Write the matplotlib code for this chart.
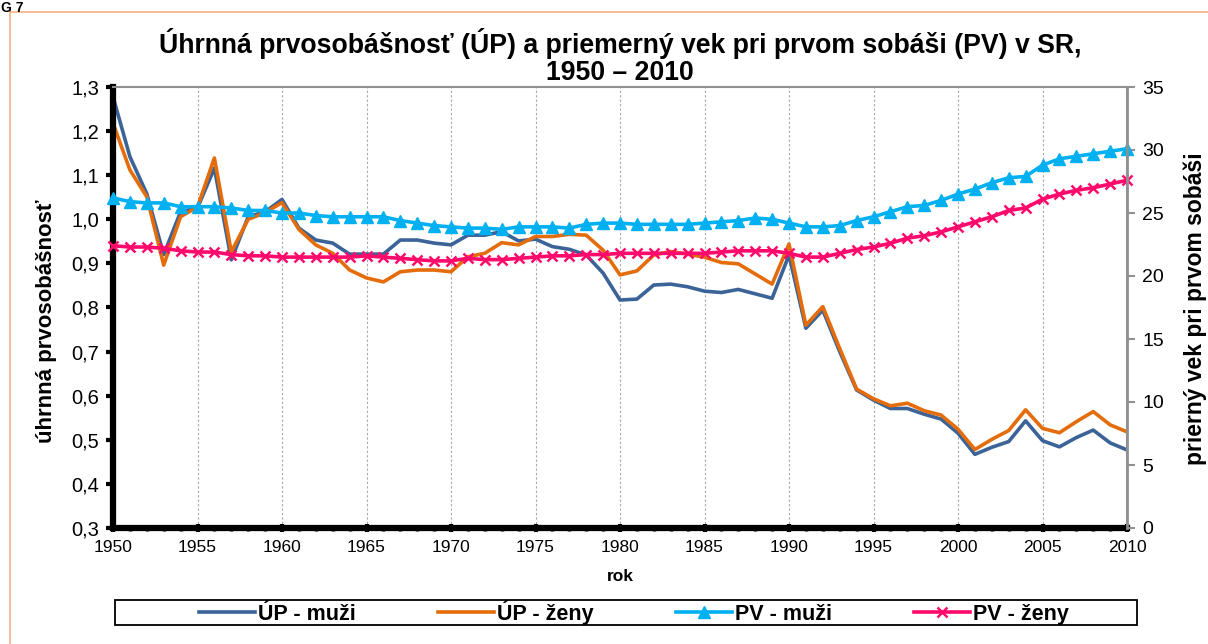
import numpy as np
import matplotlib
matplotlib.use('Agg')
import matplotlib.pyplot as plt
from matplotlib.ticker import FuncFormatter, MultipleLocator
from matplotlib.patches import Rectangle

plt.rcParams['font.family'] = ['Liberation Sans', 'DejaVu Sans']

# roky
roky = np.arange(1950, 2011)

# úhrnná prvosobášnosť - muži
up_muzi = [1.278, 1.142, 1.058, 0.920, 1.017, 1.026, 1.116, 0.908, 1.006, 1.017,
           1.045, 0.980, 0.953, 0.946, 0.921, 0.921, 0.921, 0.953, 0.953, 0.946,
           0.942, 0.964, 0.964, 0.972, 0.951, 0.955, 0.938, 0.932, 0.919, 0.878,
           0.817, 0.819, 0.851, 0.853, 0.847, 0.837, 0.834, 0.841, 0.831, 0.821,
           0.919, 0.753, 0.794, 0.700, 0.613, 0.590, 0.571, 0.571, 0.558, 0.547,
           0.515, 0.467, 0.483, 0.496, 0.543, 0.498, 0.484, 0.505, 0.522, 0.493,
           0.477]

# úhrnná prvosobášnosť - ženy
up_zeny = [1.218, 1.112, 1.051, 0.896, 1.006, 1.028, 1.139, 0.926, 1.000, 1.015,
           1.038, 0.977, 0.942, 0.923, 0.885, 0.867, 0.858, 0.881, 0.885, 0.885,
           0.881, 0.915, 0.923, 0.947, 0.942, 0.961, 0.961, 0.966, 0.964, 0.930,
           0.874, 0.883, 0.919, 0.927, 0.921, 0.914, 0.902, 0.899, 0.876, 0.853,
           0.944, 0.760, 0.802, 0.707, 0.615, 0.593, 0.577, 0.583, 0.566, 0.556,
           0.524, 0.478, 0.501, 0.521, 0.568, 0.526, 0.516, 0.541, 0.564, 0.534,
           0.518]

# priemerný vek pri prvom sobáši - muži
pv_muzi = [26.2, 25.9, 25.8, 25.8, 25.5, 25.5, 25.5, 25.4, 25.2, 25.2,
           25.0, 25.0, 24.8, 24.7, 24.7, 24.7, 24.7, 24.4, 24.2, 24.0,
           23.9, 23.8, 23.8, 23.7, 23.9, 23.9, 23.9, 23.8, 24.1, 24.2,
           24.2, 24.1, 24.1, 24.1, 24.1, 24.2, 24.3, 24.4, 24.6, 24.5,
           24.2, 23.9, 23.9, 24.0, 24.4, 24.7, 25.1, 25.5, 25.6, 26.0,
           26.5, 26.9, 27.4, 27.8, 27.9, 28.8, 29.3, 29.5, 29.7, 29.9,
           30.1]

# priemerný vek pri prvom sobáši - ženy
pv_zeny = [22.4, 22.3, 22.3, 22.2, 22.0, 21.9, 21.9, 21.7, 21.6, 21.6,
           21.5, 21.5, 21.5, 21.5, 21.5, 21.6, 21.5, 21.4, 21.3, 21.2,
           21.2, 21.4, 21.3, 21.3, 21.4, 21.5, 21.6, 21.6, 21.7, 21.7,
           21.8, 21.8, 21.8, 21.8, 21.8, 21.8, 21.9, 22.0, 22.0, 22.0,
           21.8, 21.5, 21.5, 21.8, 22.1, 22.3, 22.6, 23.0, 23.2, 23.5,
           23.9, 24.3, 24.7, 25.2, 25.4, 26.1, 26.5, 26.8, 27.0, 27.3,
           27.6]

c_up_m = '#3B6397'
c_up_z = '#E46C0A'
c_pv_m = '#00B0F0'
c_pv_z = '#FF0A6C'

fig = plt.figure(figsize=(12.08, 6.44), dpi=100)
W, H = 1208, 644

# oranžový rámček grafu
fig.patches.append(Rectangle((10 / W, -0.2), 1.2, (H - 12) / H + 0.2,
                             transform=fig.transFigure, fill=False,
                             edgecolor='#F4B183', linewidth=1.2))
fig.text(1 / W, 1 - 1 / H, 'G 7', fontsize=10, fontweight='bold', va='top')

ax = fig.add_axes([113 / W, (H - 528) / H, (1127 - 113) / W, (528 - 87) / H])
ax2 = ax.twinx()

ax.plot(roky, up_muzi, color=c_up_m, lw=2.6, label='ÚP - muži')
ax.plot(roky, up_zeny, color=c_up_z, lw=2.6, label='ÚP - ženy')
ax2.plot(roky, pv_muzi, color=c_pv_m, lw=2.6, marker='^', ms=8.5, clip_on=False,
         label='PV - muži')
ax2.plot(roky, pv_zeny, color=c_pv_z, lw=2.6, marker='x', ms=7.5, mew=1.8,
         clip_on=False, label='PV - ženy')

ax.set_xlim(1950, 2010)
ax.set_ylim(0.3, 1.3)
ax2.set_ylim(0, 35)

ax.xaxis.set_major_locator(MultipleLocator(5))
ax.xaxis.set_minor_locator(MultipleLocator(1))
ax.yaxis.set_major_locator(MultipleLocator(0.1))
ax.yaxis.set_major_formatter(FuncFormatter(lambda v, p: f'{v:.1f}'.replace('.', ',')))
ax2.yaxis.set_major_locator(MultipleLocator(5))

for x in range(1955, 2010, 5):
    ax.axvline(x, color='#A6A6A6', lw=0.8, ls=(0, (2, 2)), zorder=0)

# osi
for s in ['left', 'bottom']:
    ax.spines[s].set_linewidth(4.5)
    ax.spines[s].set_color('black')
for s in ['top', 'right']:
    ax.spines[s].set_color('#909090')
    ax.spines[s].set_linewidth(1.5)
ax2.spines['left'].set_visible(False)
ax2.spines['bottom'].set_visible(False)
ax2.spines['top'].set_visible(False)
ax2.spines['right'].set_color('#909090')
ax2.spines['right'].set_linewidth(2)

ax.tick_params(axis='x', which='major', direction='inout', length=6, width=3,
               color='black', labelsize=12.5, pad=6)
ax.tick_params(axis='x', which='minor', direction='inout', length=5, width=2.5,
               color='black')
ax.tick_params(axis='y', direction='out', length=5, width=3, color='black',
               labelsize=14.5, pad=5)
ax2.tick_params(axis='y', direction='out', length=6, width=1.5, color='#909090',
                labelsize=14, pad=5)

fig.text(620 / W, 1 - 57 / H,
         'Úhrnná prvosobášnosť (ÚP) a priemerný vek pri prvom sobáši (PV) v SR,\n1950 – 2010',
         fontsize=19.2, fontweight='bold', ha='center', va='center', linespacing=1.05)
ax.set_xlabel('rok', fontsize=12.5, fontweight='bold', labelpad=10)
fig.text(47 / W, 1 - 321 / H, 'úhrnná prvosobášnosť', rotation=90,
         fontsize=16, fontweight='bold', ha='center', va='center')
fig.text(1195 / W, 1 - 309 / H, 'prierný vek pri prvom sobáši', rotation=90,
         fontsize=16.5, fontweight='bold', ha='center', va='center')

# legenda
fig.patches.append(Rectangle((115 / W, (H - 625) / H), (1137 - 115) / W, 25 / H,
                             transform=fig.transFigure, fill=False,
                             edgecolor='black', linewidth=1.3))
h1, l1 = ax.get_legend_handles_labels()
h2, l2 = ax2.get_legend_handles_labels()
fig.legend(h1 + h2, l1 + l2, ncol=4, loc='center',
           bbox_to_anchor=(634 / W, 1 - 612.5 / H), frameon=False,
           prop={'weight': 'bold', 'size': 15.5}, handlelength=2.6,
           handletextpad=0.15, columnspacing=3.8, borderpad=0, borderaxespad=0)

fig.savefig('out.png', dpi=100)
